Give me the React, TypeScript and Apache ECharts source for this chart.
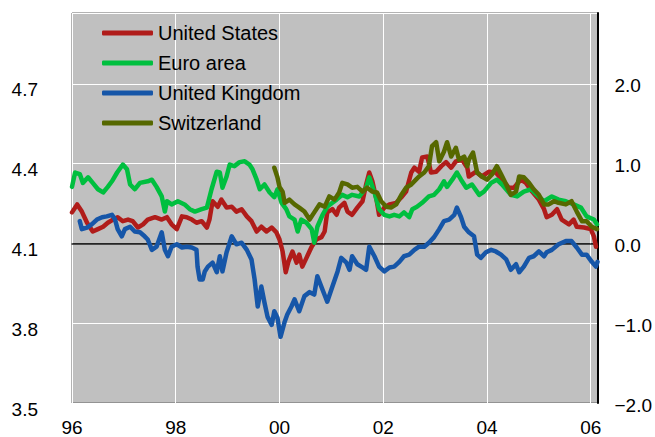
import React, { useEffect, useRef } from "react";
import * as echarts from "echarts";

// [decimal year, value (right-hand scale)]
const usData: [number, number][] = [
  [1996.0, 0.39], [1996.1, 0.49], [1996.19, 0.4], [1996.29, 0.26], [1996.4, 0.15], [1996.5, 0.18],
  [1996.6, 0.21], [1996.69, 0.26], [1996.79, 0.3], [1996.88, 0.33], [1996.98, 0.28], [1997.08, 0.3],
  [1997.17, 0.28], [1997.27, 0.2], [1997.37, 0.24], [1997.46, 0.3], [1997.6, 0.33], [1997.73, 0.3],
  [1997.83, 0.33], [1997.92, 0.24], [1998.02, 0.18], [1998.12, 0.34], [1998.21, 0.33], [1998.31, 0.3],
  [1998.4, 0.26], [1998.5, 0.28], [1998.6, 0.2], [1998.65, 0.3], [1998.71, 0.53], [1998.81, 0.46],
  [1998.88, 0.55], [1998.98, 0.45], [1999.08, 0.46], [1999.17, 0.4], [1999.27, 0.43], [1999.37, 0.34],
  [1999.46, 0.28], [1999.56, 0.15], [1999.65, 0.21], [1999.75, 0.15], [1999.85, 0.2], [1999.94, 0.14],
  [2000.0, 0.05], [2000.06, -0.1], [2000.12, -0.36], [2000.17, -0.23], [2000.25, -0.1], [2000.33, -0.24],
  [2000.38, -0.14], [2000.44, -0.29], [2000.52, -0.18], [2000.62, -0.04], [2000.71, 0.05], [2000.81, 0.08],
  [2000.87, 0.15], [2000.92, 0.39], [2001.02, 0.43], [2001.1, 0.36], [2001.15, 0.45], [2001.25, 0.51],
  [2001.31, 0.4], [2001.4, 0.36], [2001.5, 0.45], [2001.6, 0.53], [2001.67, 0.74], [2001.73, 0.89],
  [2001.79, 0.78], [2001.87, 0.55], [2001.92, 0.36], [2002.02, 0.45], [2002.12, 0.49], [2002.25, 0.51],
  [2002.35, 0.58], [2002.44, 0.65], [2002.54, 0.89], [2002.6, 0.95], [2002.69, 0.9], [2002.75, 1.08],
  [2002.85, 1.09], [2002.92, 0.89], [2003.02, 0.9], [2003.12, 0.97], [2003.21, 1.02], [2003.31, 0.95],
  [2003.4, 1.03], [2003.52, 1.05], [2003.62, 0.95], [2003.65, 0.84], [2003.79, 0.9], [2003.9, 0.84],
  [2004.04, 0.9], [2004.17, 0.89], [2004.29, 0.8], [2004.42, 0.7], [2004.52, 0.7], [2004.65, 0.8],
  [2004.75, 0.76], [2004.87, 0.65], [2005.0, 0.55], [2005.1, 0.43], [2005.15, 0.33], [2005.25, 0.36],
  [2005.35, 0.43], [2005.44, 0.3], [2005.58, 0.24], [2005.67, 0.3], [2005.73, 0.21], [2005.87, 0.2],
  [2006.0, 0.18], [2006.06, 0.09], [2006.1, -0.04],
];

const euroData: [number, number][] = [
  [1996.0, 0.71], [1996.06, 0.89], [1996.15, 0.87], [1996.21, 0.76], [1996.31, 0.83], [1996.4, 0.76],
  [1996.5, 0.68], [1996.6, 0.64], [1996.69, 0.71], [1996.77, 0.78], [1996.87, 0.89], [1996.98, 0.99],
  [1997.06, 0.93], [1997.12, 0.74], [1997.21, 0.68], [1997.31, 0.76], [1997.46, 0.78], [1997.54, 0.8],
  [1997.63, 0.71], [1997.73, 0.59], [1997.79, 0.4], [1997.83, 0.53], [1997.92, 0.49], [1998.04, 0.53],
  [1998.17, 0.49], [1998.27, 0.43], [1998.37, 0.4], [1998.5, 0.43], [1998.6, 0.45], [1998.69, 0.68],
  [1998.79, 0.9], [1998.85, 0.89], [1998.9, 0.7], [1998.98, 0.84], [1999.04, 0.99], [1999.13, 0.97],
  [1999.23, 1.02], [1999.33, 1.03], [1999.42, 0.99], [1999.48, 0.93], [1999.56, 0.8], [1999.62, 0.68],
  [1999.71, 0.74], [1999.81, 0.64], [1999.9, 0.58], [1999.96, 0.68], [2000.04, 0.51], [2000.13, 0.43],
  [2000.19, 0.34], [2000.29, 0.3], [2000.35, 0.15], [2000.42, 0.3], [2000.52, 0.26], [2000.62, 0.18],
  [2000.67, 0.01], [2000.73, 0.21], [2000.83, 0.36], [2000.92, 0.46], [2001.02, 0.51], [2001.1, 0.55],
  [2001.21, 0.61], [2001.31, 0.58], [2001.4, 0.61], [2001.54, 0.59], [2001.67, 0.7], [2001.73, 0.83],
  [2001.83, 0.64], [2001.92, 0.43], [2002.02, 0.36], [2002.12, 0.34], [2002.21, 0.36], [2002.31, 0.34],
  [2002.4, 0.39], [2002.5, 0.33], [2002.56, 0.43], [2002.65, 0.46], [2002.75, 0.51], [2002.88, 0.59],
  [2002.98, 0.61], [2003.08, 0.68], [2003.17, 0.78], [2003.23, 0.71], [2003.33, 0.8], [2003.42, 0.89],
  [2003.5, 0.8], [2003.6, 0.7], [2003.71, 0.74], [2003.85, 0.61], [2003.94, 0.65], [2004.08, 0.76],
  [2004.19, 0.8], [2004.29, 0.74], [2004.46, 0.61], [2004.58, 0.59], [2004.71, 0.65], [2004.85, 0.68],
  [2004.96, 0.61], [2005.1, 0.53], [2005.25, 0.59], [2005.38, 0.55], [2005.52, 0.53], [2005.67, 0.49],
  [2005.81, 0.45], [2005.92, 0.34], [2006.06, 0.3], [2006.12, 0.24],
];

const ukData: [number, number][] = [
  [1996.15, 0.28], [1996.19, 0.18], [1996.29, 0.2], [1996.38, 0.24], [1996.48, 0.3], [1996.58, 0.33],
  [1996.67, 0.34], [1996.77, 0.36], [1996.83, 0.3], [1996.88, 0.18], [1996.96, 0.09], [1997.02, 0.18],
  [1997.12, 0.21], [1997.21, 0.15], [1997.31, 0.14], [1997.4, 0.09], [1997.46, 0.05], [1997.54, -0.08],
  [1997.63, -0.04], [1997.73, 0.14], [1997.79, -0.08], [1997.85, -0.16], [1997.92, -0.04], [1998.02, -0.01],
  [1998.12, -0.05], [1998.21, -0.04], [1998.31, -0.05], [1998.4, -0.08], [1998.42, -0.29], [1998.46, -0.45],
  [1998.52, -0.45], [1998.56, -0.35], [1998.62, -0.29], [1998.71, -0.24], [1998.79, -0.36], [1998.85, -0.16],
  [1998.9, -0.35], [1998.98, -0.11], [1999.08, 0.09], [1999.17, -0.01], [1999.27, 0.01], [1999.37, -0.08],
  [1999.46, -0.2], [1999.52, -0.45], [1999.58, -0.79], [1999.65, -0.54], [1999.71, -0.74], [1999.77, -0.92],
  [1999.85, -1.02], [1999.9, -0.85], [1999.96, -0.93], [2000.02, -1.17], [2000.1, -0.98], [2000.15, -0.89],
  [2000.23, -0.79], [2000.29, -0.7], [2000.38, -0.85], [2000.48, -0.66], [2000.58, -0.61], [2000.67, -0.64],
  [2000.73, -0.41], [2000.83, -0.58], [2000.92, -0.73], [2001.02, -0.54], [2001.12, -0.35], [2001.19, -0.18],
  [2001.29, -0.24], [2001.35, -0.33], [2001.4, -0.16], [2001.5, -0.26], [2001.6, -0.3], [2001.67, -0.33],
  [2001.73, -0.04], [2001.83, -0.16], [2001.92, -0.29], [2002.02, -0.35], [2002.12, -0.3], [2002.21, -0.29],
  [2002.31, -0.23], [2002.4, -0.16], [2002.5, -0.14], [2002.6, -0.08], [2002.69, -0.04], [2002.79, -0.04],
  [2002.88, 0.01], [2002.98, 0.08], [2003.08, 0.18], [2003.17, 0.28], [2003.27, 0.3], [2003.37, 0.36],
  [2003.42, 0.45], [2003.5, 0.33], [2003.56, 0.21], [2003.65, 0.14], [2003.75, 0.09], [2003.81, -0.14],
  [2003.88, -0.18], [2003.98, -0.11], [2004.08, -0.08], [2004.17, -0.1], [2004.27, -0.14], [2004.37, -0.2],
  [2004.46, -0.33], [2004.56, -0.26], [2004.62, -0.36], [2004.71, -0.29], [2004.81, -0.18], [2004.9, -0.16],
  [2005.0, -0.1], [2005.1, -0.16], [2005.15, -0.11], [2005.25, -0.08], [2005.38, -0.01], [2005.52, 0.03],
  [2005.63, 0.03], [2005.73, -0.05], [2005.83, -0.14], [2005.92, -0.14], [2006.02, -0.23], [2006.1, -0.29],
  [2006.13, -0.23],
];

const swissData: [number, number][] = [
  [1999.9, 0.95], [1999.96, 0.83], [2000.0, 0.71], [2000.06, 0.65], [2000.1, 0.51], [2000.19, 0.55],
  [2000.29, 0.49], [2000.38, 0.45], [2000.48, 0.4], [2000.58, 0.3], [2000.67, 0.39], [2000.77, 0.49],
  [2000.87, 0.46], [2000.96, 0.59], [2001.06, 0.55], [2001.15, 0.64], [2001.21, 0.76], [2001.31, 0.74],
  [2001.4, 0.7], [2001.5, 0.71], [2001.6, 0.65], [2001.69, 0.7], [2001.79, 0.65], [2001.88, 0.64],
  [2001.96, 0.53], [2002.06, 0.46], [2002.15, 0.45], [2002.25, 0.49], [2002.35, 0.61], [2002.44, 0.7],
  [2002.54, 0.74], [2002.63, 0.8], [2002.69, 0.84], [2002.79, 0.89], [2002.88, 0.97], [2002.94, 1.22],
  [2003.02, 1.27], [2003.08, 1.03], [2003.17, 1.15], [2003.23, 1.27], [2003.31, 1.09], [2003.4, 1.2],
  [2003.46, 1.05], [2003.56, 1.09], [2003.62, 0.97], [2003.65, 1.05], [2003.73, 1.14], [2003.81, 0.89],
  [2003.9, 0.84], [2004.0, 0.8], [2004.1, 0.87], [2004.19, 0.97], [2004.27, 0.87], [2004.37, 0.74],
  [2004.46, 0.61], [2004.56, 0.65], [2004.62, 0.84], [2004.71, 0.83], [2004.81, 0.76], [2004.9, 0.68],
  [2005.0, 0.61], [2005.1, 0.49], [2005.19, 0.49], [2005.29, 0.53], [2005.38, 0.51], [2005.52, 0.49],
  [2005.63, 0.53], [2005.73, 0.4], [2005.83, 0.28], [2005.92, 0.28], [2006.02, 0.21], [2006.12, 0.18],
];

const seriesNames = ["United States", "Euro area", "United Kingdom", "Switzerland"];
const seriesColors = ["#b01c1a", "#00bf3f", "#1656a8", "#566800"];
const seriesData = [usData, euroData, ukData, swissData];

const xMin = 1996;
const xMax = 2006.13;
const leftMin = 3.5;
const leftMax = 4.967;
const rightMin = -2;
const rightMax = 2.89;

const FONT = "'Liberation Sans', Arial, sans-serif";

export default function App() {
  const ref = useRef<HTMLDivElement>(null);
  useEffect(() => {
    document.body.style.margin = "0";
    if (!ref.current) return;
    const chart = echarts.init(ref.current, undefined, { renderer: "svg" });
    const near = (a: number, b: number) => Math.abs(a - b) < 1e-6;
    chart.setOption({
      animation: false,
      textStyle: { fontFamily: FONT },
      grid: {
        left: 72,
        right: 56,
        top: 13,
        bottom: 34,
        show: true,
        backgroundColor: "#c0c0c0",
        borderColor: "#666",
        borderWidth: 1,
      },
      legend: {
        orient: "vertical",
        left: 102,
        top: 22,
        padding: 0,
        itemWidth: 51,
        itemHeight: 5,
        itemGap: 8,
        icon: "roundRect",
        data: seriesNames,
        textStyle: { fontSize: 20, lineHeight: 22, color: "#000", fontFamily: FONT },
      },
      xAxis: {
        type: "value",
        min: xMin,
        max: xMax,
        interval: 2,
        axisLine: { show: true, lineStyle: { color: "#222", width: 1.5 } },
        axisTick: { show: false },
        splitLine: { show: true, lineStyle: { color: "#ffffff", width: 1 } },
        axisLabel: {
          fontSize: 19,
          color: "#000",
          margin: 15,
          fontFamily: FONT,
          formatter: (v: number) => {
            const r = Math.round(v);
            if (!near(v, r) || r % 2 !== 0) return "";
            return String(r % 100).padStart(2, "0");
          },
        },
      },
      yAxis: [
        {
          type: "value",
          position: "left",
          min: leftMin,
          max: leftMax,
          interval: 0.3,
          axisLine: { show: false },
          axisTick: { show: false },
          splitLine: {
            show: true,
            lineStyle: { color: ["#ffffff", "#ffffff", "#333333", "#ffffff", "#ffffff", "#ffffff"], width: 1 },
          },
          axisLabel: {
            fontSize: 19,
            color: "#000",
            margin: 34,
            verticalAlign: "top",
            lineHeight: 12,
            fontFamily: FONT,
            formatter: (v: number) => {
              const k = (v - leftMin) / 0.3;
              if (!near(k, Math.round(k)) || v > 4.8) return "";
              return v.toFixed(1);
            },
          },
        },
        {
          type: "value",
          position: "right",
          min: rightMin,
          max: rightMax,
          interval: 1,
          axisLine: { show: true, lineStyle: { color: "#000", width: 2 } },
          axisTick: { show: false },
          splitLine: { show: false },
          axisLabel: {
            fontSize: 19,
            color: "#000",
            margin: 17,
            verticalAlign: "top",
            lineHeight: 4,
            fontFamily: FONT,
            formatter: (v: number) => {
              if (!near(v, Math.round(v)) || v > 2.5) return "";
              const s = Math.abs(v).toFixed(1);
              return v < -1e-9 ? "\u2212" + s : s;
            },
          },
        },
      ],
      series: seriesNames.map((name, i) => ({
        name,
        type: "line",
        xAxisIndex: 0,
        yAxisIndex: 1,
        data: seriesData[i],
        showSymbol: false,
        symbol: "none",
        color: seriesColors[i],
        lineStyle: { width: 4.5, color: seriesColors[i], cap: "round", join: "round" },
        z: 2 + i,
      })),
    });
    return () => chart.dispose();
  }, []);
  return <div ref={ref} style={{ width: 655, height: 437 }} />;
}
